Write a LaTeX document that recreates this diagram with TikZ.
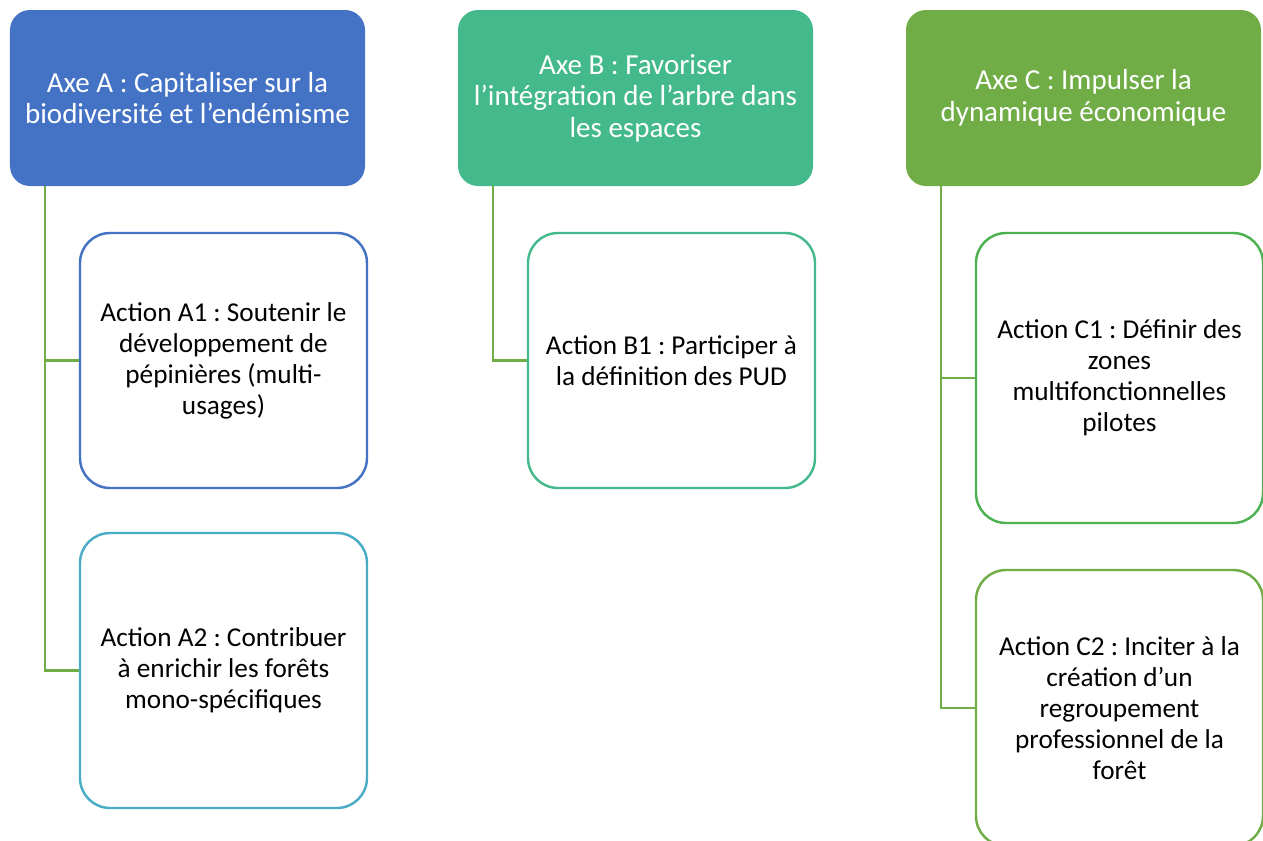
\documentclass[tikz,border=0pt]{standalone}
\usepackage{fontspec}
\setmainfont{Carlito}
\usepackage{tikz}
\usetikzlibrary{positioning}
\definecolor{axeblue}{HTML}{4472C4}
\definecolor{axeteal}{HTML}{44BA8C}
\definecolor{axegreen}{HTML}{70AD47}
\definecolor{actcyan}{HTML}{4BACC6}
\definecolor{actgreen}{HTML}{4DB152}
\frenchspacing

\begin{document}
\begin{tikzpicture}[
		axebox/.style={rounded corners=0.4cm, draw=none, text=white, align=center, minimum width=7.1cm, minimum height=3.52cm, font=\fontsize{16.5}{18}\selectfont},
		actbox/.style={rounded corners=0.6cm, line width=1.4pt, fill=white, text=black, align=center, minimum width=5.74cm, font=\fontsize{15.5}{17.6}\selectfont},
		link/.style={axegreen, line width=1.3pt}
	]
			\useasboundingbox (0,0) rectangle (25.26,-16.8);
			
			\node [axebox, fill=axeblue] (axeA) at (3.75,-1.96) {Axe A : Capitaliser sur la\\biodiversité et l’endémisme};
			\node [axebox, fill=axeteal] (axeB) at (12.71,-1.96) {Axe B : Favoriser\\l’intégration de l’arbre dans\\les espaces};
			\node [axebox, fill=axegreen] (axeC) at (21.67,-1.96) {Axe C : Impulser la\\dynamique économique};
			
			\node [actbox, draw=axeblue, minimum height=5.1cm] (actA1) at (4.47,-7.21) {Action A1 : Soutenir le\\développement de\\pépinières (multi-\\usages)};
			\node [actbox, draw=actcyan, minimum height=5.5cm] (actA2) at (4.47,-13.41) {Action A2 : Contribuer\\à enrichir les forêts\\mono-spécifiques};
			
			\node [actbox, draw=axeteal, minimum height=5.1cm] (actB1) at (13.43,-7.21) {Action B1 : Participer à\\la définition des PUD};
			
			\node [actbox, draw=actgreen, minimum height=5.8cm] (actC1) at (22.39,-7.56) {Action C1 : Définir des\\zones\\multifonctionnelles\\pilotes};
			\node [actbox, draw=axegreen, minimum height=5.52cm] (actC2) at (22.39,-14.16) {Action C2 : Inciter à la\\création d’un\\regroupement\\professionnel de la\\forêt};
			
			\draw [link] ([xshift=0.7cm]axeA.south west) |- (actA1.west);
			\draw [link] ([xshift=0.7cm]axeA.south west) |- (actA2.west);
			\draw [link] ([xshift=0.7cm]axeB.south west) |- (actB1.west);
			\draw [link] ([xshift=0.7cm]axeC.south west) |- (actC1.west);
			\draw [link] ([xshift=0.7cm]axeC.south west) |- (actC2.west);
		\end{tikzpicture}
\end{document}
